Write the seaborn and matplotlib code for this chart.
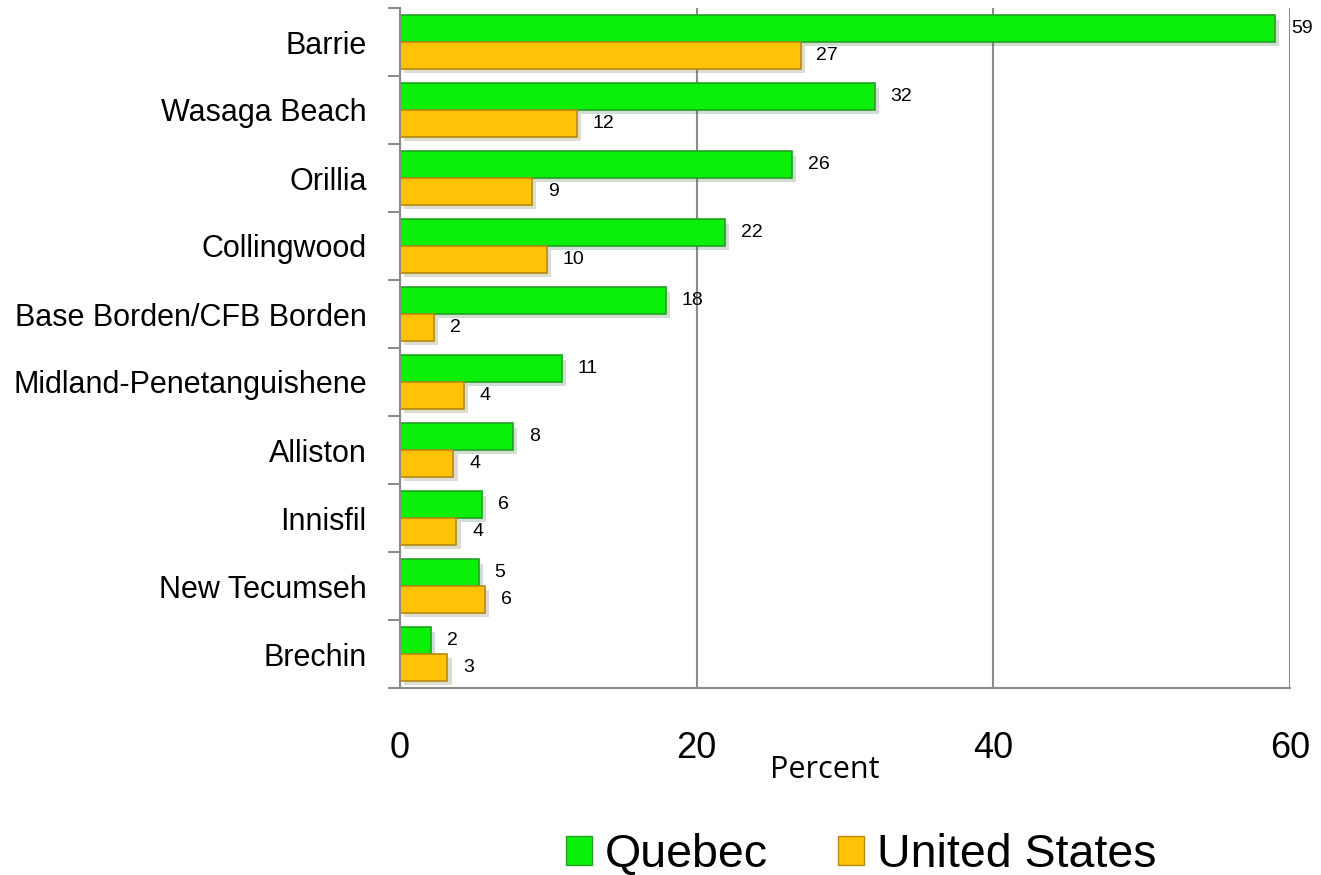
import matplotlib
matplotlib.use("Agg")
import matplotlib.pyplot as plt
import matplotlib.patheffects as pe
from matplotlib.patches import Patch
import seaborn as sns
import pandas as pd

cities = ["Barrie", "Wasaga Beach", "Orillia", "Collingwood", "Base Borden/CFB Borden",
          "Midland-Penetanguishene", "Alliston", "Innisfil", "New Tecumseh", "Brechin"]
quebec = [59.0, 32.0, 26.4, 21.9, 17.9, 10.9, 7.6, 5.5, 5.3, 2.1]
united_states = [27.0, 11.9, 8.9, 9.9, 2.3, 4.3, 3.6, 3.8, 5.7, 3.2]
series_names = ["Quebec", "United States"]
x_ticks = [0, 20, 40, 60]

df = pd.DataFrame({
    "city": cities * 2,
    "series": [series_names[0]] * len(cities) + [series_names[1]] * len(cities),
    "value": quebec + united_states,
})

sns.set_theme(style="white")
plt.rcParams["font.family"] = ["Liberation Sans", "DejaVu Sans"]
plt.rcParams["text.color"] = "black"
plt.rcParams["xtick.color"] = "black"
plt.rcParams["ytick.color"] = "black"

fig = plt.figure(figsize=(13.21, 8.75), dpi=100)
ax = fig.add_axes([400 / 1321, 1 - 688 / 875, 890 / 1321, 680 / 875])

colors = {"Quebec": "#0BF00B", "United States": "#FFC207"}
edges = {"Quebec": "#23A023", "United States": "#B58A12"}

sns.barplot(data=df, y="city", x="value", hue="series", orient="h",
            palette=colors, width=0.78, dodge=True, ax=ax, legend=False,
            saturation=1, errorbar=None)

for cont, name in zip(ax.containers, series_names):
    for bar in cont:
        bar.set_edgecolor(edges[name])
        bar.set_linewidth(1.2)
        bar.set_path_effects([pe.SimplePatchShadow(offset=(3, -3), alpha=0.18), pe.Normal()])
    ax.bar_label(cont, labels=[f"{v:.0f}" for v in cont.datavalues],
                 padding=11.5, fontsize=14, color="black")

ax.set_xlim(0, 60)
ax.set_ylim(len(cities) - 0.5, -0.5)
ax.set_xticks(x_ticks)
ax.set_xticklabels([str(t) for t in x_ticks], fontsize=26)
ax.tick_params(axis="x", length=8, width=1.5, color="#8c8c8c", labelcolor="black", pad=23)
ax.set_yticks(range(len(cities)))
ax.set_yticklabels(cities, fontsize=22)
ax.tick_params(axis="y", which="major", length=0, pad=24, labelcolor="black")
ax.set_yticks([i - 0.5 for i in range(len(cities) + 1)], minor=True)
ax.tick_params(axis="y", which="minor", length=9, width=1.5, color="#8c8c8c", left=True)

ax.grid(axis="x", color="#8c8c8c", linewidth=1.5)
ax.set_axisbelow(True)
for s in ["top", "right"]:
    ax.spines[s].set_visible(False)
for s in ["left", "bottom"]:
    ax.spines[s].set_color("#8c8c8c")
    ax.spines[s].set_linewidth(1.5)

ax.set_ylabel("")
ax.set_xlabel("Percent", fontsize=22, family=["Open Sans", "DejaVu Sans"], color="black")
ax.xaxis.set_label_coords((825 - 400) / 890, (688 - 755) / 680)

handles = [Patch(facecolor=colors[n], edgecolor=edges[n], label=n) for n in series_names]
fig.legend(handles=handles, loc="center", bbox_to_anchor=(861 / 1321, 1 - 855 / 875),
           ncol=2, frameon=False, fontsize=33.5, handlelength=0.56, handleheight=0.56,
           handletextpad=0.28, columnspacing=1.5, borderaxespad=0, borderpad=0)

fig.savefig("out.png", dpi=100)
